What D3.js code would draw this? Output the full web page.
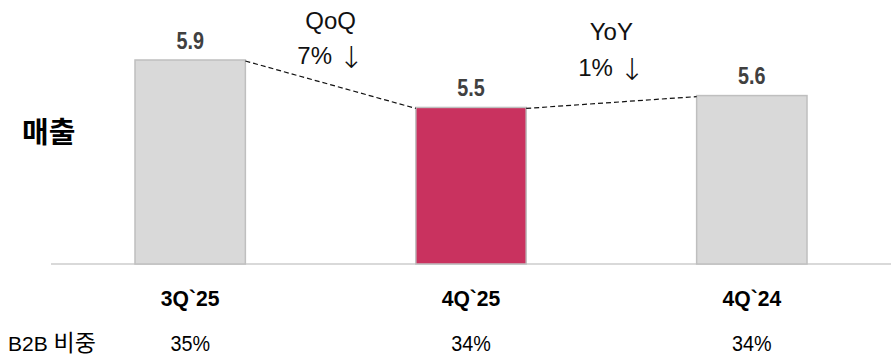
<!DOCTYPE html>
<html>
<head>
<meta charset="utf-8">
<script src="https://cdn.jsdelivr.net/npm/d3@7"></script>
<style>
  body { margin: 0; background: #fff; }
  svg { display: block; }
  text { font-family: "Liberation Sans", Arial, "Noto Sans CJK KR", sans-serif; }
</style>
</head>
<body>
<div id="chart"></div>
<script>
var categories = ["3Q`25", "4Q`25", "4Q`24"];
var sales = [5.9, 5.5, 5.6];
var b2bShare = ["35%", "34%", "34%"];
var changes = [
  {label: "QoQ", value: "7%"},
  {label: "YoY", value: "1%"}
];
var highlight = "4Q`25";

var width = 891,
    height = 360;

var svg = d3.select("#chart")
  .append("svg")
  .attr("width", width)
  .attr("height", height);

var x = d3.scaleBand()
  .domain(categories)
  .range([135, 807])
  .paddingInner(0.607)
  .paddingOuter(0);

var y = d3.scaleLinear()
  .domain([4.18, 5.9])
  .range([264, 60]);

// condensed text helper: scale only horizontally around the anchor point
function squeeze(sel, sx) {
  sel.attr("transform", function () {
    var t = d3.select(this);
    return "translate(" + t.attr("x") + "," + t.attr("y") + ") scale(" + sx + ",1)";
  }).attr("x", 0).attr("y", 0);
}

// baseline
svg.append("line")
  .attr("x1", 51)
  .attr("x2", width)
  .attr("y1", y(4.18))
  .attr("y2", y(4.18))
  .attr("stroke", "#d9d9d9")
  .attr("stroke-width", 2);

var data = categories.map(function (c, i) {
  return {cat: c, value: sales[i], share: b2bShare[i]};
});

svg.selectAll("rect.bar")
  .data(data)
  .enter()
  .append("rect")
  .attr("class", "bar")
  .attr("x", function (d) { return x(d.cat); })
  .attr("y", function (d) { return y(d.value); })
  .attr("width", x.bandwidth())
  .attr("height", function (d) { return y(4.18) - y(d.value); })
  .attr("fill", function (d) { return d.cat === highlight ? "#c9325f" : "#d9d9d9"; })
  .attr("stroke", "#bfbfbf")
  .attr("stroke-width", 1.5);

// value labels
svg.selectAll("text.val")
  .data(data)
  .enter()
  .append("text")
  .attr("class", "val")
  .attr("x", function (d) { return x(d.cat) + x.bandwidth() / 2; })
  .attr("y", function (d) { return y(d.value) - 11.5; })
  .attr("text-anchor", "middle")
  .style("font-size", "23px")
  .style("font-weight", "bold")
  .attr("fill", "#404040")
  .text(function (d) { return d3.format(".1f")(d.value); })
  .call(squeeze, 0.86);

// dashed connectors between bars
var annoY = [[28.5, 64], [40, 75.7]];
changes.forEach(function (c, i) {
  var a = data[i], b = data[i + 1];
  var x1 = x(a.cat) + x.bandwidth(),
      x2 = x(b.cat);
  svg.append("line")
    .attr("x1", x1)
    .attr("y1", y(a.value) + 1)
    .attr("x2", x2)
    .attr("y2", y(b.value) + 1)
    .attr("stroke", "#111")
    .attr("stroke-width", 1.2)
    .attr("stroke-dasharray", "5,3");

  var cx = (x1 + x2) / 2;
  svg.append("text")
    .attr("x", cx)
    .attr("y", annoY[i][0])
    .attr("text-anchor", "middle")
    .style("font-size", "24px")
    .attr("fill", "#111")
    .text(c.label);
  var t = svg.append("text")
    .attr("x", cx)
    .attr("y", annoY[i][1])
    .attr("text-anchor", "middle")
    .style("font-size", "24px")
    .attr("fill", "#111");
  t.append("tspan").text(c.value + " ");
  t.append("tspan")
    .style("font-family", "'DejaVu Sans', sans-serif")
    .style("font-weight", "200")
    .style("font-size", "30px")
    .attr("dy", 4)
    .text("↓");
});

// category labels
svg.selectAll("text.cat")
  .data(data)
  .enter()
  .append("text")
  .attr("class", "cat")
  .attr("x", function (d) { return x(d.cat) + x.bandwidth() / 2; })
  .attr("y", 306)
  .attr("text-anchor", "middle")
  .style("font-size", "22px")
  .style("font-weight", "bold")
  .attr("fill", "#000")
  .text(function (d) { return d.cat; })
  .call(squeeze, 0.96);

// B2B share row
svg.selectAll("text.share")
  .data(data)
  .enter()
  .append("text")
  .attr("class", "share")
  .attr("x", function (d) { return x(d.cat) + x.bandwidth() / 2; })
  .attr("y", 351)
  .attr("text-anchor", "middle")
  .style("font-size", "22px")
  .attr("fill", "#000")
  .text(function (d) { return d.share; })
  .call(squeeze, 0.9);

var b2b = svg.append("text")
  .attr("x", 8)
  .attr("y", 351)
  .style("font-size", "21px")
  .attr("fill", "#000");
b2b.append("tspan").text("B2B ");
b2b.append("tspan")
  .style("font-family", "'Noto Sans CJK KR', sans-serif")
  .style("font-size", "23px")
  .text("비중");

svg.append("text")
  .attr("x", 22)
  .attr("y", 143)
  .style("font-family", "'Noto Sans CJK KR', sans-serif")
  .style("font-size", "29px")
  .style("font-weight", "bold")
  .attr("fill", "#000")
  .text("매출");
</script>
</body>
</html>
